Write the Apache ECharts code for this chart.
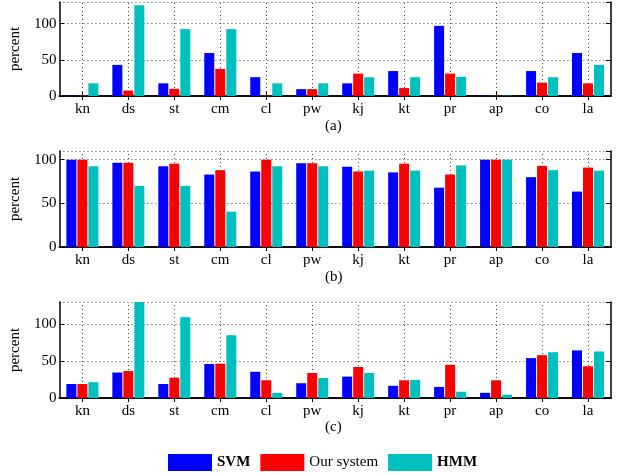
<!DOCTYPE html>
<html>
<head>
<meta charset="utf-8">
<script src="https://cdn.jsdelivr.net/npm/echarts@6/dist/echarts.min.js"></script>
<style>html,body{margin:0;padding:0;background:#fff;}#c{width:618px;height:475px;}</style>
</head>
<body>
<div id="c"></div>
<script>
const categories = ['kn','ds','st','cm','cl','pw','kj','kt','pr','ap','co','la'];
const seriesNames = ['SVM','Our system','HMM'];
const panelLabels = ['(a)','(b)','(c)'];
const yMaxes = [130, 110, 130];
const yTickStep = 50;

const svmA  = [0.5, 43, 17.5, 59.5, 26, 9.5, 17.5, 34.5, 97, 0.5, 34.5, 59.5];
const oursA = [0.5, 7.5, 10, 37.5, 0.5, 9.5, 31, 11, 31, 0.5, 18.5, 17.5];
const hmmA  = [17.5, 125.5, 92.5, 92.5, 17.5, 17.5, 26, 26, 26.5, 0.5, 26, 43];

const svmB  = [100, 96.5, 92.5, 83, 86.5, 96, 92, 85.5, 68, 100, 80, 63.5];
const oursB = [100, 96.5, 95.5, 88, 100, 96, 86.5, 95.5, 83, 100, 93, 91];
const hmmB  = [92.5, 70, 70, 40.5, 92.5, 92.5, 87.5, 87.5, 93.5, 100, 88, 87.5];

const svmC  = [19, 34.5, 19, 46, 35.5, 20, 29, 16.5, 15, 7, 54, 64.5];
const oursC = [19, 36.5, 27.5, 46.5, 24, 34, 42, 24, 45, 24, 58, 43];
const hmmC  = [21.5, 130, 109.5, 85, 7, 27, 34, 24.5, 8.5, 4.5, 62, 63];

const panelData = [[svmA, oursA, hmmA], [svmB, oursB, hmmB], [svmC, oursC, hmmC]];
const colors = ['#0000ff', '#ff0000', '#00bfbf'];

const FONT = 'Liberation Serif';
const gridTops = [2, 151, 302];
const gridHeights = [94, 96, 96];
const gridLeft = 57, gridRight = 7;

const grid = [], xAxis = [], yAxis = [], series = [], graphic = [];
const lineStyle = {color: '#000', width: 1.5};
const tickStyle = {color: '#000', width: 1};
const dotted = {color: '#444', width: 1, type: [1, 3]};

for (let p = 0; p < 3; p++) {
  grid.push({left: gridLeft, right: gridRight, top: gridTops[p], height: gridHeights[p], containLabel: false});
  xAxis.push({
    type: 'category', gridIndex: p, data: categories, position: 'bottom',
    axisLine: {show: true, lineStyle: lineStyle},
    axisTick: {show: true, inside: true, alignWithLabel: true, length: 4, lineStyle: tickStyle},
    axisLabel: {fontFamily: FONT, fontSize: 15, color: '#000', margin: 6},
    splitLine: {show: false}
  });
  xAxis.push({
    type: 'category', gridIndex: p, data: categories, position: 'top',
    axisLine: {show: true, lineStyle: lineStyle},
    axisTick: {show: true, inside: true, alignWithLabel: true, length: 4, lineStyle: tickStyle},
    axisLabel: {show: false}, splitLine: {show: false}
  });
  yAxis.push({
    type: 'value', gridIndex: p, min: 0, max: yMaxes[p], interval: yTickStep, position: 'left',
    name: 'percent', nameLocation: 'middle', nameGap: 25,
    nameTextStyle: {fontFamily: FONT, fontSize: 15, color: '#000'},
    axisLine: {show: true, lineStyle: lineStyle},
    axisTick: {show: true, inside: true, length: 5, lineStyle: tickStyle},
    axisLabel: {fontFamily: FONT, fontSize: 15, color: '#000', margin: 3, showMaxLabel: false},
    splitLine: {show: true, lineStyle: dotted}
  });
  yAxis.push({
    type: 'value', gridIndex: p, min: 0, max: yMaxes[p], interval: yTickStep, position: 'right',
    axisLine: {show: true, lineStyle: lineStyle},
    axisTick: {show: true, inside: true, length: 5, lineStyle: tickStyle},
    axisLabel: {show: false}, splitLine: {show: false}
  });
  series.push({
    type: 'line', xAxisIndex: p * 2, yAxisIndex: p * 2, data: [], z: 1, silent: true,
    markLine: {
      silent: true, symbol: ['none', 'none'], label: {show: false}, animation: false,
      lineStyle: dotted, emphasis: {disabled: true},
      data: categories.map(c => ({xAxis: c}))
    }
  });
  for (let s = 0; s < 3; s++) {
    series.push({
      type: 'bar', name: seriesNames[s], xAxisIndex: p * 2, yAxisIndex: p * 2,
      data: panelData[p][s], barWidth: 10, barGap: '10%',
      itemStyle: {color: colors[s]}, animation: false, z: 3
    });
  }
}

const subtitleY = [126, 277, 427];
for (let p = 0; p < 3; p++) {
  graphic.push({
    type: 'text', left: 325, top: subtitleY[p] - 7,
    style: {text: panelLabels[p], font: '15px "Liberation Serif"', fill: '#000'}
  });
}

const chart = echarts.init(document.getElementById('c'), null, {renderer: 'canvas'});
chart.setOption({
  animation: false,
  backgroundColor: '#fff',
  grid: grid, xAxis: xAxis, yAxis: yAxis, series: series, graphic: graphic,
  legend: {
    left: 168, top: 454, padding: 0, itemWidth: 44, itemHeight: 17, itemGap: 10, icon: 'rect',
    textStyle: {fontFamily: FONT, fontSize: 15, color: '#000'},
    data: [
      {name: 'SVM', textStyle: {fontWeight: 'bold'}},
      {name: 'Our system'},
      {name: 'HMM', textStyle: {fontWeight: 'bold'}}
    ]
  }
});
</script>
</body>
</html>
